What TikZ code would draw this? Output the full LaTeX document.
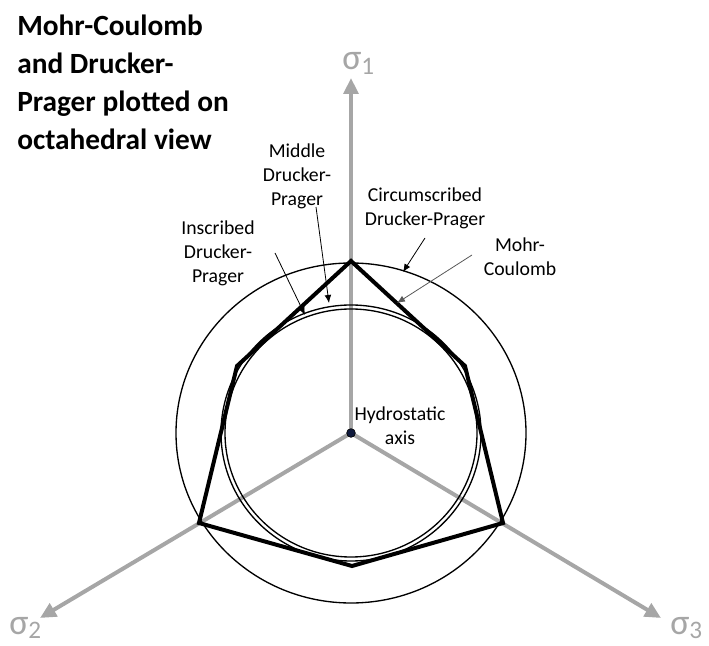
\documentclass[tikz,border=0pt]{standalone}
\usepackage{fontspec}
\setmainfont{Carlito}
\usetikzlibrary{arrows.meta}
\definecolor{axisgray}{RGB}{166,166,166}
\definecolor{dotblue}{RGB}{15,25,60}

\begin{document}
\begin{tikzpicture}[x=0.75pt, y=0.75pt,
        sigaxis/.style={axisgray, line width=3pt, -{Triangle[length=12pt, width=11pt]}},
        siglabel/.style={text=axisgray, font=\fontsize{27}{30}\selectfont, inner sep=0pt, anchor=base west},
        dpcircle/.style={line width=1pt},
        mohr/.style={line width=3pt, line join=miter},
        leader/.style={line width=0.6pt, -{Latex[length=6pt, width=5pt]}},
        desc/.style={font=\fontsize{14.8}{18}\selectfont, align=center, inner sep=0pt},
        heading/.style={font=\fontsize{22}{28.3}\selectfont\bfseries, align=left, inner sep=0pt, anchor=north west}
    ]
        \useasboundingbox (0,0) rectangle (709,645);

        % Title
        \node[heading] (title) at (17,630) {Mohr-Coulomb\\and Drucker-\\Prager plotted on\\octahedral view};

        % Principal stress axes
        \coordinate (O) at (351,212);
        \coordinate (S1) at (351,567);
        \coordinate (S2) at (40,27);
        \coordinate (S3) at (661,27);
        \draw[sigaxis] (O) to (S1);
        \draw[sigaxis] (O) to (S2);
        \draw[sigaxis] (O) to (S3);
        \node[siglabel] (L1) at (342,575) {σ\textsubscript{1}};
        \node[siglabel] (L2) at (9,11) {σ\textsubscript{2}};
        \node[siglabel] (L3) at (670,11) {σ\textsubscript{3}};

        % Drucker-Prager circles
        \draw[dpcircle] (O) ellipse [x radius=175, y radius=170];
        \draw[dpcircle] (O) ellipse [x radius=130, y radius=128];
        \draw[dpcircle] (O) ellipse [x radius=126, y radius=124];

        % Mohr-Coulomb hexagon
        \coordinate (MC1) at (351,384);
        \coordinate (MC2) at (465,279);
        \coordinate (MC3) at (503,122);
        \coordinate (MC4) at (352,79);
        \coordinate (MC5) at (199,122);
        \coordinate (MC6) at (237,279);
        \draw[mohr] (MC1) -- (MC2) -- (MC3) -- (MC4) -- (MC5) -- (MC6) -- cycle;

        % Hydrostatic axis
        \node[circle, fill=dotblue, draw=black, line width=0.5pt, inner sep=0pt, minimum size=6.5pt] (H) at (O) {};
        \node[desc] (hydro) at (400,219) {Hydrostatic\\axis};

        % Labels
        \node[desc] (mdp) at (297,469) {Middle\\Drucker-\\Prager};
        \node[desc] (cdp) at (425,436.5) {Circumscribed\\Drucker-Prager};
        \node[desc] (idp) at (218,392) {Inscribed\\Drucker-\\Prager};
        \node[desc] (mc) at (520,388) {Mohr-\\Coulomb};

        % Leader arrows
        \coordinate (mdpA) at (316,438);
        \coordinate (mdpB) at (329,342);
        \coordinate (idpA) at (275,392);
        \coordinate (idpB) at (305,330);
        \coordinate (cdpA) at (425,407);
        \coordinate (cdpB) at (403,373);
        \coordinate (mcA) at (472,390);
        \coordinate (mcB) at (397,342);
        \draw[leader] (mdpA) to (mdpB);
        \draw[leader] (idpA) to (idpB);
        \draw[leader] (cdpA) to (cdpB);
        \draw[leader, black!65] (mcA) to (mcB);
    \end{tikzpicture}
\end{document}
